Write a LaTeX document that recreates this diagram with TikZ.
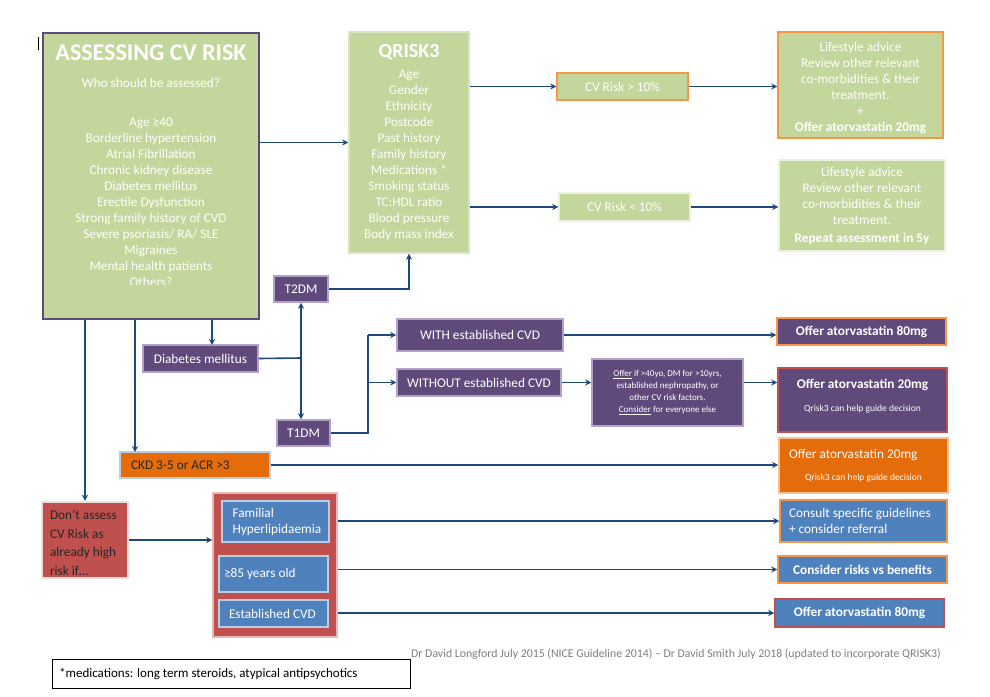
\documentclass[tikz,border=0pt]{standalone}
\usepackage{fontspec}
\setmainfont{Carlito}
\usetikzlibrary{arrows.meta}
\definecolor{gfill}{HTML}{C3D69B}
\definecolor{mainb}{HTML}{5A4E78}
\definecolor{gline}{HTML}{D7E4BD}
\definecolor{glight}{HTML}{EBF1DE}
\definecolor{orb}{HTML}{F79646}
\definecolor{orfill}{HTML}{E46C0A}
\definecolor{orlight}{HTML}{FAC090}
\definecolor{purp}{HTML}{604A7B}
\definecolor{purpb}{HTML}{B3A2C7}
\definecolor{redf}{HTML}{C0504D}
\definecolor{redl}{HTML}{E6B9B8}
\definecolor{redp}{HTML}{F2DCDB}
\definecolor{bluef}{HTML}{4F81BD}
\definecolor{bluel}{HTML}{B9CDE5}
\definecolor{arrc}{HTML}{1F497D}
\definecolor{darktxt}{HTML}{262626}
\definecolor{foot}{HTML}{7F7F7F}
\newcommand\fs{\fontsize{13.3}{16}\selectfont}
\newcommand\fsmall{\fontsize{9}{12}\selectfont}
\tikzset{
  place/.style n args={4}{minimum width={#3-#1}, minimum height={#4-#2}, at={({(#1+#3)/2},{(#2+#4)/2})}},
  bx/.style={inner sep=0pt, line width=1.5pt, text=white, align=center, font=\fs},
  gbox/.style={bx, fill=gfill},
  pbox/.style={bx, fill=purp, draw=purpb},
  obox/.style={bx, fill=orfill},
  rbox/.style={bx, fill=redf},
  bbox/.style={bx, fill=bluef},
  lst/.style={text=white, font=\fs, anchor=base, inner sep=0pt},
  arr/.style={draw=arrc, line width=1.6pt, -{Stealth[length=6pt,width=6pt]}},
  arrboth/.style={draw=arrc, line width=1.6pt, {Stealth[length=6pt,width=6pt]}-{Stealth[length=6pt,width=6pt]}},
  ln/.style={draw=arrc, line width=1.6pt},
}
\begin{document}
\begin{tikzpicture}[x=1pt,y=-1pt]
\useasboundingbox (0,0) rectangle (990,696);
\fill[white] (0,0) rectangle (990,696);

% cursor mark
\draw[black, line width=0.8pt] (38,37) -- (38,50);

% main box
\node[gbox, draw=mainb, line width=2.2pt, place={43}{33}{259}{319}] (assess) {};
\begin{scope}
  \clip (43,33) rectangle (259,284);
  \node[lst, font=\bfseries\fontsize{24}{26}\selectfont] (mtitle) at (151,60) {ASSESSING CV RISK};
  \node[lst] (mwho) at (151,87.5) {Who should be assessed?};
  \foreach \t [count=\i] in {Age ≥40, Borderline hypertension, Atrial Fibrillation, Chronic kidney disease, Diabetes mellitus, Erectile Dysfunction, Strong family history of CVD, Severe psoriasis/ RA/ SLE, Migraines, Mental health patients, Others?}
    \node[lst] (ml\i) at (151,{126.5+16*(\i-1)}) {\t};
\end{scope}

% QRISK3
\node[gbox, draw=gline, place={349}{32}{469}{253}] (qrisk) {{\bfseries\fontsize{20}{22}\selectfont QRISK3}\\[5pt]Age\\Gender\\Ethnicity\\Postcode\\Past history\\Family history\\Medications *\\Smoking status\\TC:HDL ratio\\Blood pressure\\Body mass index};

% CV risk boxes
\node[gbox, draw=orb, place={557}{73}{688}{100}] (cvhi) {CV Risk > 10\%};
\node[gbox, draw=glight, place={559}{193}{690}{221}] (cvlo) {CV Risk < 10\%};
\node[gbox, draw=orb, place={778}{32}{943}{138}] (rtop) {\mbox{}\\[-1pt]Lifestyle advice\\Review other relevant\\co-morbidities \& their\\treatment.\\+\\\textbf{Offer atorvastatin 20mg}};
\node[gbox, draw=glight, place={779}{160}{945}{251}] (rbot) {Lifestyle advice\\Review other relevant\\co-morbidities \& their\\treatment.\\[2pt]\textbf{Repeat assessment in 5y}};

% diabetes
\node[pbox, place={274}{276}{328}{302}] (t2) {T2DM};
\node[pbox, place={143}{345}{258}{372}] (dm) {Diabetes mellitus};
\node[pbox, place={277}{420}{330}{446}] (t1) {T1DM};
\node[pbox, place={397}{319}{563}{351}] (with) {WITH established CVD};
\node[pbox, place={397}{369}{561}{396}] (without) {WITHOUT established CVD};
\node[pbox, place={592}{359}{743}{426}, font=\fsmall] (offif) {\underline{Offer} if >40yo, DM for >10yrs,\\established nephropathy, or\\other CV risk factors.\\\underline{Consider} for everyone else};
\node[pbox, draw=orb, place={777}{318}{946}{345}] (off80) {\textbf{Offer atorvastatin 80mg}};
\node[pbox, draw=redf, place={778}{368}{947}{432}] (off20p) {\textbf{Offer atorvastatin 20mg}\\[7pt]{\fontsize{9.5}{12}\selectfont Qrisk3 can help guide decision}\\[-7pt]\mbox{}};

% CKD
\node[obox, draw=bluel, place={120}{452}{270}{478}, align=flush left, text width=128pt, text=darktxt] (ckd) {CKD 3-5 or ACR >3};
\node[obox, draw=orlight, place={779}{438}{948}{493}] (off20o) {\makebox[149pt][l]{Offer atorvastatin 20mg}\\[6pt]{\fontsize{9.5}{12}\selectfont Qrisk3 can help guide decision}};

% don't assess
\node[rbox, draw=redp, line width=2.5pt, place={42}{502}{128}{578}, align=flush left, text width=70pt, text=darktxt, font=\fontsize{13.3}{18.5}\selectfont] (dont) {\mbox{}\\[-3pt]Don’t assess\\CV Risk as\\already high\\risk if…};
\node[rbox, draw=redl, place={213}{493}{337}{637}] (redc) {};
\node[bbox, draw=bluel, place={222}{501}{329}{542}, align=flush left, text width=86pt] (fh) {Familial\\Hyperlipidaemia};
\node[bbox, draw=bluel, place={219}{556}{328}{592}, align=flush left, text width=99pt] (old) {≥85 years old};
\node[bbox, draw=bluel, place={219}{600}{328}{627}, align=flush left, text width=89pt] (est) {Established CVD};

% right blue boxes
\node[bbox, draw=orb, place={780}{500}{947}{542}, align=flush left, text width=149pt] (consult) {Consult specific guidelines\\+ consider referral};
\node[bbox, draw=orb, place={778}{556}{947}{583}] (risks) {\textbf{Consider risks vs benefits}};
\node[bbox, draw=redf, place={775}{599}{944}{627}] (off80b) {\textbf{Offer atorvastatin 80mg}};

% footer
\node[anchor=base west, inner sep=0pt, text=foot, font=\fontsize{11.8}{14}\selectfont] (credit) at (411,657) {Dr David Longford July 2015 (NICE Guideline 2014) – Dr David Smith July 2018 (updated to incorporate QRISK3)};
\node[draw=black, line width=0.8pt, inner sep=0pt, place={52}{659}{410}{688}] (note) {};
\node[anchor=base west, inner sep=0pt, font=\fontsize{13}{15}\selectfont] (notetxt) at (59,677) {*medications: long term steroids, atypical antipsychotics};

% coordinates
\coordinate (ckdin) at (135,452);
\coordinate (dmin) at (212,345);
\coordinate (j) at (301,358);
\coordinate (k) at (368,433);

% connectors
\draw[arr] (assess.east |- qrisk.west) -- (qrisk.west);
\draw[arr] (qrisk.east |- cvhi.west) -- (cvhi.west);
\draw[arr] (cvhi.east) -- (cvhi.east -| rtop.west);
\draw[arr] (qrisk.east |- cvlo.west) -- (cvlo.west);
\draw[arr] (cvlo.east) -- (cvlo.east -| rbot.west);

\draw[arr] (assess.south -| dont.north) -- (dont.north);
\draw[arr] (assess.south -| ckdin) -- (ckdin);
\draw[arr] (assess.south -| dmin) -- (dmin);

\draw[ln] (dm.east) -- (j);
\draw[arrboth] (j |- t2.south) -- (j |- t1.north);
\draw[arr] (t2.east) -| (qrisk.south);
\draw[ln] (t1.east) -- (k) -- (k |- with.west);
\draw[arr] (k |- with.west) -- (with.west);
\draw[arr] (k |- without.west) -- (without.west);
\draw[arr] (with.east) -- (with.east -| off80.west);
\draw[arr] (without.east) -- (without.east -| offif.west);
\draw[arr] (offif.east |- without.east) -- (off20p.west |- without.east);
\draw[arr] (ckd.east) -- (ckd.east -| off20o.west);

\draw[arr] (dont.east) -- (dont.east -| redc.west);
\draw[arr] (redc.east |- consult.west) -- (consult.west);
\draw[arr] (redc.east |- risks.west) -- (risks.west);
\draw[arr] (redc.east |- off80b.west) -- (off80b.west);
\end{tikzpicture}
\end{document}
